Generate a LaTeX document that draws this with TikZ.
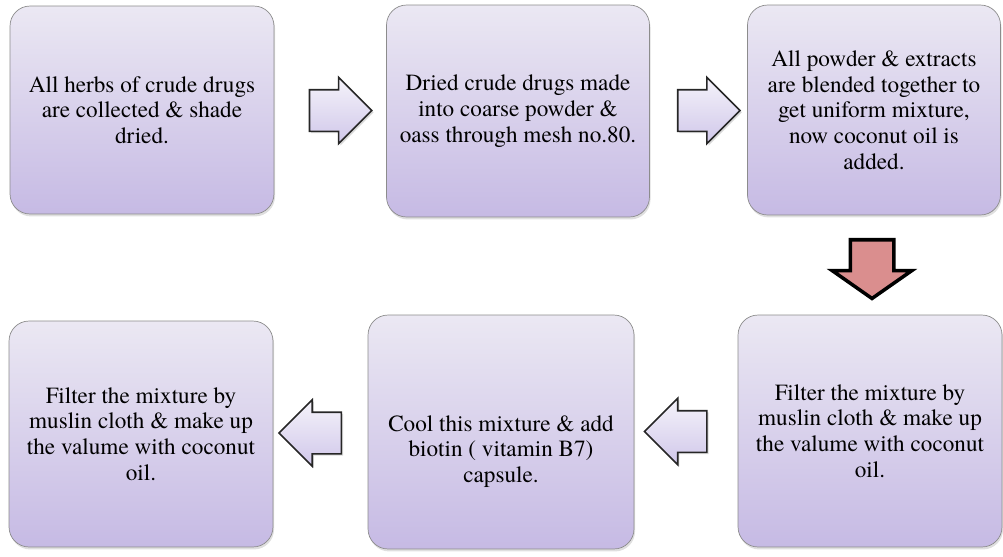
\documentclass[tikz,border=0pt]{standalone}
\usepackage{fontspec}
\setmainfont{texgyretermes}[Extension=.otf, UprightFont=*-regular, BoldFont=*-bold]
\usepackage{xcolor}
\usetikzlibrary{positioning,calc,shapes.arrows,shadows}

\definecolor{boxtop}{RGB}{235,232,243}
\definecolor{boxbot}{RGB}{198,186,228}
\definecolor{arrtop}{RGB}{245,243,250}
\definecolor{arrbot}{RGB}{208,199,234}
\definecolor{downred}{RGB}{218,142,142}

\begin{document}
\begin{tikzpicture}[
    x=0.02cm, y=-0.02cm,
    stepbox/.style={draw=black!45, rounded corners=0.4cm, top color=boxtop, bottom color=boxbot,
                align=center, font=\fontsize{13.2}{14.6}\selectfont, inner sep=0pt,
                drop shadow={opacity=0.25, shadow xshift=0.6pt, shadow yshift=-1.4pt}},
    blockarr/.style={single arrow, draw=black!85, line width=0.9pt, top color=arrtop, bottom color=arrbot,
                inner sep=0.4cm, minimum height=1.15cm, single arrow head extend=0.25cm,
                drop shadow={opacity=0.3, shadow xshift=1pt, shadow yshift=-1pt}},
    downarr/.style={single arrow, draw=black, line width=2pt, fill=downred, inner sep=0.4cm,
                minimum height=1.15cm, single arrow head extend=0.36cm,
                single arrow tip angle=110, shape border rotate=270}
  ]
    \useasboundingbox (0,0) rectangle (1003,556);

    % top row
    \node[stepbox, minimum width=5.28cm, minimum height=4.16cm] (herbs) at (142,110)
        {All herbs of crude drugs\\ are collected \& shade\\ dried.};
    \node[stepbox, minimum width=5.26cm, minimum height=4.24cm] (powder) at (518,111)
        {Dried crude drugs made\\ into coarse powder \&\\ oass through mesh no.80.};
    \node[stepbox, minimum width=5.06cm, minimum height=4.2cm] (blend) at (874,110)
        {All powder \& extracts\\ are blended together to\\ get uniform mixture,\\ now coconut oil is\\ added.};

    % bottom row
    \node[stepbox, minimum width=5.28cm, minimum height=4.64cm] (filter) at (870,431)
        {Filter the mixture by\\ muslin cloth \& make up\\ the valume with coconut\\ oil.};
    \node[stepbox, minimum width=5.32cm, minimum height=4.68cm] (cool) at (501,432)
        {\rule{0pt}{31pt}Cool this mixture \& add\\ biotin ( vitamin B7)\\ capsule.};
    \node[stepbox, minimum width=5.28cm, minimum height=4.52cm] (makeup) at (141,434)
        {Filter the mixture by\\ muslin cloth \& make up\\ the valume with coconut\\ oil.};

    % block arrows
    \node[blockarr] (a1) at ($(herbs.east)!0.5!(powder.west)$) {};
    \node[blockarr] (a2) at ($(powder.east)!0.5!(blend.west)$) {};
    \node[downarr, yshift=2pt]  (a3) at ($(blend.south)!0.5!(filter.north)$) {};
    \node[blockarr, shape border rotate=180] (a4) at ($(filter.west)!0.5!(cool.east)$) {};
    \node[blockarr, shape border rotate=180] (a5) at ($(cool.west)!0.5!(makeup.east)$) {};
\end{tikzpicture}
\end{document}
